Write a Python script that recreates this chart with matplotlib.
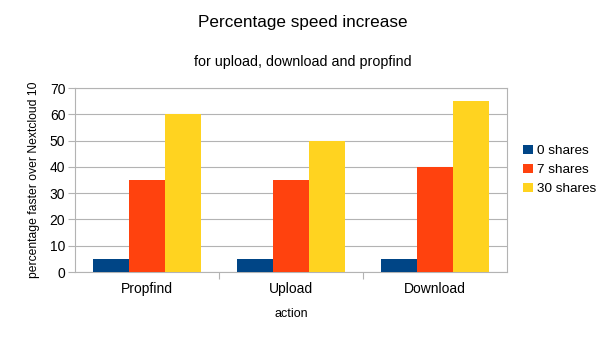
import matplotlib
matplotlib.use("Agg")
import matplotlib.pyplot as plt
import numpy as np
from matplotlib.patches import Patch

categories = ["Propfind", "Upload", "Download"]
series_names = ["0 shares", "7 shares", "30 shares"]
shares_0 = [5, 5, 5]
shares_7 = [35, 35, 40]
shares_30 = [60, 50, 65]
colors = ["#004586", "#ff420e", "#ffd320"]

plt.rcParams['font.family'] = ['Liberation Sans', 'DejaVu Sans']

fig = plt.figure(figsize=(6.05, 3.4), dpi=100)
ax = fig.add_axes([75/605, 1-272/340, (507-75)/605, (272-88)/340])

x = np.arange(len(categories))
w = 0.25
for i, (vals, c) in enumerate(zip([shares_0, shares_7, shares_30], colors)):
    ax.bar(x + (i-1)*w, vals, width=w, color=c, zorder=3, linewidth=0)

ax.set_xlim(-0.5, 2.5)
ax.set_ylim(0, 70)
ax.set_yticks(range(0, 71, 10))
ax.yaxis.grid(True, color="#b3b3b3", linewidth=0.8, zorder=0)
for s in ax.spines.values():
    s.set_color("#b3b3b3")
    s.set_linewidth(0.8)
ax.tick_params(axis='y', colors="#b3b3b3", labelcolor="#000000", labelsize=10, length=5, width=0.8, pad=2)
ax.set_xticks(x)
ax.set_xticklabels(categories, fontsize=10)
ax.tick_params(axis='x', length=0, pad=7.5)
ax.set_xticks([0.5, 1.5], minor=True)
ax.tick_params(axis='x', which='minor', colors="#b3b3b3", length=5, width=0.8)

ax.set_xlabel("action", fontsize=9, labelpad=8)
ax.set_ylabel("percentage faster over Nextcloud 10", fontsize=8.7, labelpad=7)

fig.text(0.5, 1-22/340, "Percentage speed increase", ha='center', va='center', fontsize=12.3)
fig.text(0.5, 1-62/340, "for upload, download and propfind", ha='center', va='center', fontsize=10.3)

handles = [Patch(facecolor=c, edgecolor='none') for c in colors]
fig.legend(handles, series_names, loc='center left', bbox_to_anchor=(518/605, 1-170/340),
           frameon=False, fontsize=9.7, handlelength=0.7, handleheight=0.7,
           handletextpad=0.3, labelspacing=0.5, borderaxespad=0)

fig.savefig("out.png", dpi=100)
